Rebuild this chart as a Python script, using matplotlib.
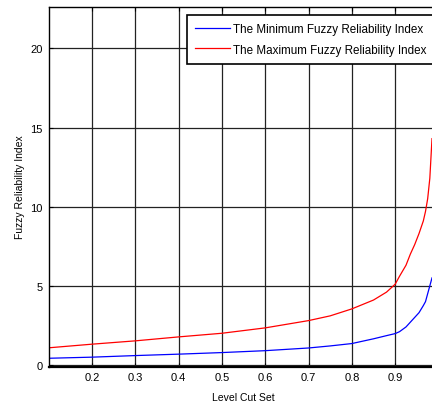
import numpy as np
import matplotlib
matplotlib.use('Agg')
import matplotlib.pyplot as plt

# values
level_cut = [0.1, 0.2, 0.3, 0.4, 0.5, 0.6, 0.7, 0.75, 0.8, 0.85, 0.88, 0.9, 0.91,
             0.925, 0.935, 0.945, 0.955, 0.965, 0.97, 0.975, 0.98, 0.985]
max_index = [1.08, 1.31, 1.52, 1.77, 2.0, 2.34, 2.8, 3.1, 3.54, 4.1, 4.6, 5.1, 5.6,
             6.3, 7.0, 7.6, 8.3, 9.1, 9.7, 10.5, 11.8, 14.3]
min_index = [0.42, 0.49, 0.59, 0.68, 0.78, 0.9, 1.07, 1.2, 1.35, 1.65, 1.85, 1.98, 2.1,
             2.4, 2.7, 3.0, 3.3, 3.75, 4.0, 4.5, 5.0, 5.5]
x_ticks = [0.2, 0.3, 0.4, 0.5, 0.6, 0.7, 0.8, 0.9]
y_ticks = [0, 5, 10, 15, 20]

plt.rcParams['font.family'] = ['Liberation Sans', 'DejaVu Sans']

fig = plt.figure(figsize=(4.32, 4.06), dpi=100)
# axes runs a bit past the right edge of the figure, as in the cropped original
ax = fig.add_axes([48.5 / 432, 38.5 / 406, 390 / 432, 360 / 406])

ax.plot(level_cut, min_index, color='#0000ff', linewidth=0.9,
        label='The Minimum Fuzzy Reliability Index')
ax.plot(level_cut, max_index, color='#ff0000', linewidth=0.9,
        label='The Maximum Fuzzy Reliability Index')

ax.set_xlim(0.1, 1.0)
ax.set_ylim(-0.1, 22.65)
ax.set_xticks(x_ticks)
ax.set_yticks(y_ticks)
ax.set_xticklabels([f'{t:.1f}' for t in x_ticks])

ax.grid(True, color='#222222', linewidth=0.9, linestyle='-')
ax.tick_params(direction='in', length=3, width=0.8, labelsize=8, pad=4,
               top=True, right=True, colors='black')
for spine in ax.spines.values():
    spine.set_linewidth(1.0)
ax.spines['bottom'].set_linewidth(1.6)

ax.set_xlabel('Level Cut Set', fontsize=7.5, labelpad=7)
ax.set_ylabel('Fuzzy Reliability Index', fontsize=7.5, labelpad=4)

leg = ax.legend(loc='upper left', bbox_to_anchor=(186.7 / 432, 1 - 15.7 / 406),
                bbox_transform=fig.transFigure, fontsize=8.35, frameon=True,
                fancybox=False, edgecolor='black', framealpha=1,
                handlelength=3.0, handletextpad=0.3, borderpad=0.7,
                labelspacing=0.75, borderaxespad=0)
leg.get_frame().set_linewidth(1.2)

fig.savefig('out.png', dpi=100)
